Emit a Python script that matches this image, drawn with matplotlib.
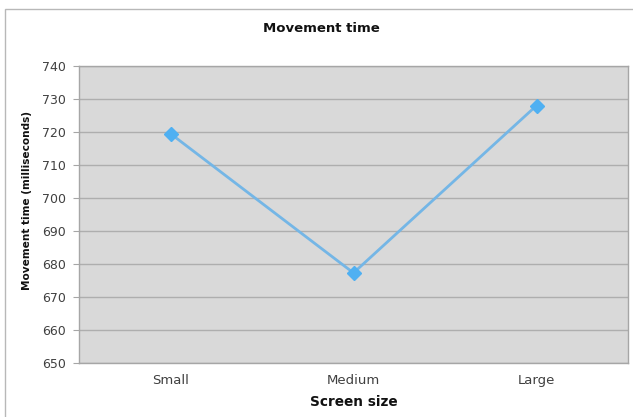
import numpy as np
import matplotlib
matplotlib.use('Agg')
import matplotlib.pyplot as plt
from matplotlib.patches import Rectangle

# data
sizes = ['Small', 'Medium', 'Large']
move_time = [719.5, 677.3, 728.0]
yticks = np.arange(650, 741, 10)

fig = plt.figure(figsize=(6.33, 4.17), dpi=100)
fig.patch.set_facecolor('white')

# outer chart border
fig.patches.append(Rectangle((5/633, -0.01), 1.0, 1 - 9/417 + 0.01, transform=fig.transFigure,
                             fill=False, edgecolor='#b8b8b8', linewidth=1.0))

ax = fig.add_axes([79/633, 1 - 363/417, (628 - 79)/633, (363 - 66)/417])
ax.set_facecolor('#d9d9d9')

x = np.arange(len(sizes))
ax.plot(x, move_time, color='#74b6e6', linewidth=2.0, marker='D', markersize=7,
        markerfacecolor='#4fb0f2', markeredgecolor='#4fb0f2', zorder=3)

ax.set_xlim(-0.5, len(sizes) - 0.5)
ax.set_ylim(650, 740)
ax.set_yticks(yticks)
ax.set_xticks(x)
ax.set_xticklabels(sizes)
ax.yaxis.grid(True, color='#aeaeae', linewidth=1.0)
ax.set_axisbelow(True)

for s in ax.spines.values():
    s.set_color('#a6a6a6')
    s.set_linewidth(1.0)

ax.tick_params(axis='y', length=4, color='#a6a6a6', labelsize=9, labelcolor='#404040', pad=5.5)
ax.tick_params(axis='x', length=0, labelsize=9.5, labelcolor='#404040', pad=8)

# titles placed in figure coords, as in the reference
fig.text(321.5/633, 1 - 28.5/417, 'Movement time', fontsize=9.5, fontweight='bold',
         color='#111111', ha='center', va='center')
fig.text(353.5/633, 1 - 402/417, 'Screen size', fontsize=9.8, fontweight='bold',
         color='#111111', ha='center', va='center')
fig.text(27.5/633, 1 - 201/417, 'Movement time (milliseconds)', fontsize=7.6, fontweight='bold',
         color='#111111', ha='center', va='center', rotation=90)

fig.savefig('out.png', dpi=100)
